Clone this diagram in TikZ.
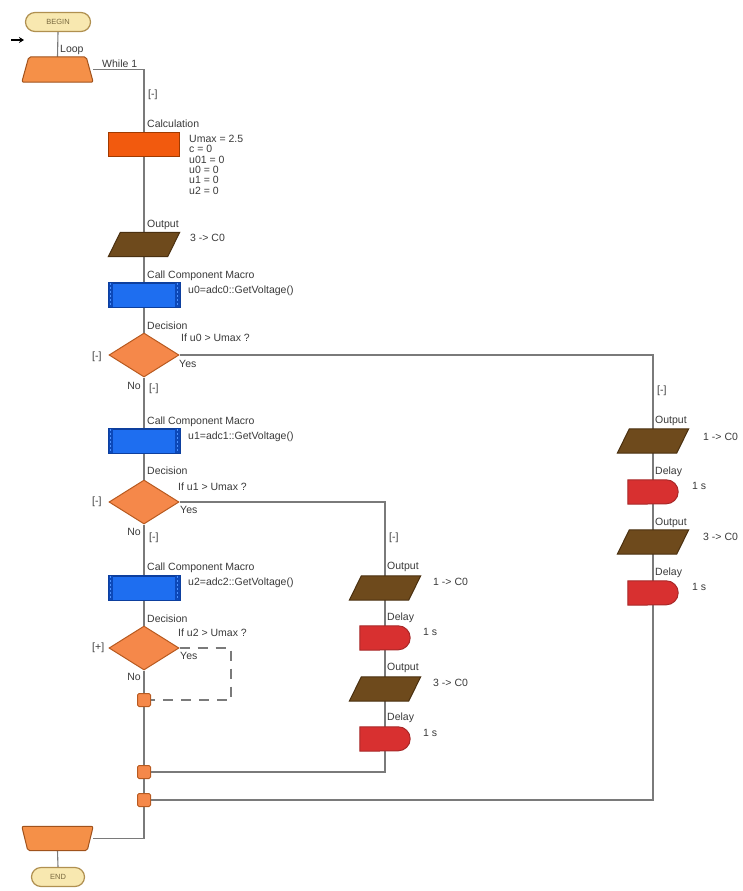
\documentclass[tikz,border=0pt]{standalone}
\usepackage{fontspec}
\setmainfont{Liberation Sans}
\usetikzlibrary{shapes.geometric,shapes.misc,arrows.meta,calc}
\definecolor{lineg}{HTML}{7A7A7A}
\definecolor{txt}{HTML}{3A3A3A}
\definecolor{pillf}{HTML}{F8E8B0}
\definecolor{pillb}{HTML}{B09050}
\definecolor{pilltxt}{HTML}{7A6A40}
\definecolor{loopf}{HTML}{F59048}
\definecolor{loopb}{HTML}{A0521C}
\definecolor{calcf}{HTML}{F25A0E}
\definecolor{calcb}{HTML}{A03A00}
\definecolor{parf}{HTML}{6E4A1C}
\definecolor{parb}{HTML}{4A3010}
\definecolor{macf}{HTML}{1E6EF0}
\definecolor{macd}{HTML}{0C48B8}
\definecolor{macl}{HTML}{4A90FF}
\definecolor{macb}{HTML}{0D3F9E}
\definecolor{decf}{HTML}{F5884A}
\definecolor{decb}{HTML}{B85A20}
\definecolor{dela}{HTML}{D83030}
\definecolor{delb}{HTML}{F87070}
\definecolor{delc}{HTML}{A82828}
\tikzset{
  conn/.style={draw=lineg, line width=1.1pt},
  lbl/.style={anchor=west, inner sep=0pt, font=\fontsize{10.5}{12}\selectfont, text=txt},
  pill/.style={rounded rectangle, draw=pillb, fill=pillf, line width=1.2pt, inner sep=0pt, font=\fontsize{7.5}{9}\selectfont, text=pilltxt},
  loopbox/.style={rectangle, draw=none, minimum width=71, minimum height=25, inner sep=0pt},
  calcbox/.style={rectangle, draw=calcb, fill=calcf, line width=1pt, minimum width=71, minimum height=24, inner sep=0pt},
  parabox/.style={rectangle, draw=none, minimum width=71, minimum height=24, inner sep=0pt},
  delaybox/.style={rectangle, draw=none, minimum width=50, minimum height=24, inner sep=0pt},
  macbox/.style={rectangle, draw=macb, fill=macf, line width=1pt, minimum width=71, minimum height=24, inner sep=0pt},
  decbox/.style={diamond, draw=decb, fill=decf, line width=1pt, minimum width=70, minimum height=44, inner sep=0pt},
  sqbox/.style={rectangle, draw=decb, fill=decf, line width=1pt, minimum size=13, inner sep=0pt, rounded corners=1.5pt},
  loopdraw/.style={draw=loopb, fill=loopf, line width=1pt, rounded corners=2pt},
}
\newcommand{\mkpara}[1]{%
  \draw[draw=parb, fill=parf, line width=1pt] (#1.south west) -- ($(#1.north west)+(12,0)$) -- (#1.north east) -- ($(#1.south east)+(-12,0)$) -- cycle;}
\newcommand{\mkdelay}[1]{%
  \path[draw=delc, line width=1pt, top color=dela, middle color=delb, bottom color=dela] (#1.north west) -- ($(#1.north east)+(-12,0)$) arc[start angle=-90, end angle=90, radius=12] -- (#1.south west) -- cycle;}
\newcommand{\mkmacro}[1]{%
  \fill[macd] (#1.north west) rectangle ($(#1.south west)+(5,0)$);
  \fill[macd] (#1.north east) rectangle ($(#1.south east)+(-5,0)$);
  \draw[macl, line width=1pt, dash pattern=on 2pt off 2pt] ($(#1.north west)+(2.5,0)$) -- ($(#1.south west)+(2.5,0)$);
  \draw[macl, line width=1pt, dash pattern=on 2pt off 2pt] ($(#1.north east)+(-2.5,0)$) -- ($(#1.south east)+(-2.5,0)$);
  \draw[macb, line width=1pt] (#1.north west) rectangle (#1.south east);}
\newcommand{\mkloop}[1]{%
  \draw[loopdraw] (#1.south west) -- ($(#1.north west)+(7,0)$) -- ($(#1.north east)+(-7,0)$) -- (#1.south east) -- cycle;}
\newcommand{\mkendloop}[1]{%
  \draw[loopdraw] (#1.north west) -- ($(#1.south west)+(6,0)$) -- ($(#1.south east)+(-6,0)$) -- (#1.north east) -- cycle;}
\begin{document}
\begin{tikzpicture}[x=1pt,y=-1pt]
\useasboundingbox[fill=white] (0,0) rectangle (742,891);
% nodes
\node[pill, minimum width=65, minimum height=19] (begin) at (58,22) {BEGIN};
\node[loopbox] (loop) at (57.5,69.5) {};
\node[calcbox] (calc) at (144,144) {};
\node[parabox] (out1) at (144,244.5) {};
\node[macbox] (mac1) at (144,295) {};
\node[decbox] (dec1) at (144,355) {};
\node[macbox] (mac2) at (144,441) {};
\node[decbox] (dec2) at (144,502) {};
\node[macbox] (mac3) at (144,588) {};
\node[decbox] (dec3) at (144,648) {};
\node[sqbox] (sq3) at (144,700) {};
\node[sqbox] (sq2) at (144,772) {};
\node[sqbox] (sq1) at (144,800) {};
\node[loopbox, minimum height=24] (endloop) at (57.5,838.5) {};
\node[pill, minimum width=53, minimum height=19] (end) at (58,877) {END};
% right column
\node[parabox] (or1) at (653,441) {};
\node[delaybox] (dr1) at (653,492) {};
\node[parabox] (or2) at (653,542) {};
\node[delaybox] (dr2) at (653,593) {};
% middle column
\node[parabox] (om1) at (385,588) {};
\node[delaybox] (dm1) at (385,638) {};
\node[parabox] (om2) at (385,689) {};
\node[delaybox] (dm2) at (385,739) {};
\coordinate (arrA) at (11,40);
\coordinate (arrB) at (24,40);
\coordinate (dsh1) at (231,648);
\coordinate (dsh2) at (231,700);
% connectors
\draw[conn] (begin.south) -- (loop.north);
\draw[conn] (loop.east) -| (calc.north);
\draw[conn] (calc.south) -- (out1.north);
\draw[conn] (out1.south) -- (mac1.north);
\draw[conn] (mac1.south) -- (dec1.north);
\draw[conn] (dec1.south) -- (mac2.north);
\draw[conn] (mac2.south) -- (dec2.north);
\draw[conn] (dec2.south) -- (mac3.north);
\draw[conn] (mac3.south) -- (dec3.north);
\draw[conn] (dec3.south) -- (sq3.north);
\draw[conn] (sq3.south) -- (sq2.north);
\draw[conn] (sq2.south) -- (sq1.north);
\draw[conn] (sq1.south) |- (endloop.east);
\draw[conn] (endloop.south) -- (end.north);
\draw[conn] (dec1.east) -| (or1.north);
\draw[conn] (or1.south) -- (dr1.north);
\draw[conn] (dr1.south) -- (or2.north);
\draw[conn] (or2.south) -- (dr2.north);
\draw[conn] (dr2.south) |- (sq1.east);
\draw[conn] (dec2.east) -| (om1.north);
\draw[conn] (om1.south) -- (dm1.north);
\draw[conn] (dm1.south) -- (om2.north);
\draw[conn] (om2.south) -- (dm2.north);
\draw[conn] (dm2.south) |- (sq2.east);
\draw[conn, dash pattern=on 10pt off 8pt] (dec3.east) -- (dsh1) -- (dsh2) -- (sq3.east);
\draw[-{Stealth[length=5pt,width=6pt]}, line width=1.4pt, black] (arrA) -- (arrB);
% shapes drawn over invisible boxes
\mkloop{loop}\mkendloop{endloop}
\mkpara{out1}\mkpara{or1}\mkpara{or2}\mkpara{om1}\mkpara{om2}
\mkdelay{dr1}\mkdelay{dr2}\mkdelay{dm1}\mkdelay{dm2}
\mkmacro{mac1}\mkmacro{mac2}\mkmacro{mac3}
% labels
\node[lbl] (tLoop) at (60,50) {Loop};
\node[lbl] (tWhile) at (102,64) {While 1};
\node[lbl] (tb0) at (148,95) {[-]};
\node[lbl] (tCalc) at (147,124) {Calculation};
\node[lbl, anchor=north west, align=left, font=\fontsize{10.5}{10.3}\selectfont] (tCalcTxt) at (189,135) {Umax = 2.5\\c = 0\\u01 = 0\\u0 = 0\\u1 = 0\\u2 = 0};
\node[lbl] (tOut1) at (147,225) {Output};
\node[lbl] (tOut1v) at (190,238) {3 -> C0};
\node[lbl] (tMac1) at (147,276) {Call Component Macro};
\node[lbl] (tMac1v) at (188,291) {u0=adc0::GetVoltage()};
\node[lbl] (tDec1) at (147,326) {Decision};
\node[lbl] (tDec1v) at (181,338) {If u0 > Umax ?};
\node[lbl] (tYes1) at (179,364) {Yes};
\node[lbl] (tL1) at (92,357) {[-]};
\node[lbl, anchor=east] (tNo1) at (141,386) {No};
\node[lbl] (tb1) at (149,389) {[-]};
\node[lbl] (tMac2) at (147,422) {Call Component Macro};
\node[lbl] (tMac2v) at (188,437) {u1=adc1::GetVoltage()};
\node[lbl] (tDec2) at (147,471) {Decision};
\node[lbl] (tDec2v) at (178,487) {If u1 > Umax ?};
\node[lbl] (tYes2) at (180,510) {Yes};
\node[lbl] (tL2) at (92,502) {[-]};
\node[lbl, anchor=east] (tNo2) at (141,532) {No};
\node[lbl] (tb2) at (149,538) {[-]};
\node[lbl] (tMac3) at (147,568) {Call Component Macro};
\node[lbl] (tMac3v) at (188,583) {u2=adc2::GetVoltage()};
\node[lbl] (tDec3) at (147,619) {Decision};
\node[lbl] (tDec3v) at (178,633) {If u2 > Umax ?};
\node[lbl] (tYes3) at (180,656) {Yes};
\node[lbl] (tL3) at (92,648) {[+]};
\node[lbl, anchor=east] (tNo3) at (141,677) {No};
% right column labels
\node[lbl] (tbR) at (657,391) {[-]};
\node[lbl] (tOR1) at (655,421) {Output};
\node[lbl] (tOR1v) at (703,437) {1 -> C0};
\node[lbl] (tDR1) at (655,472) {Delay};
\node[lbl] (tDR1v) at (692,486) {1 s};
\node[lbl] (tOR2) at (655,523) {Output};
\node[lbl] (tOR2v) at (703,537) {3 -> C0};
\node[lbl] (tDR2) at (655,573) {Delay};
\node[lbl] (tDR2v) at (692,587) {1 s};
% middle column labels
\node[lbl] (tbM) at (389,538) {[-]};
\node[lbl] (tOM1) at (387,567) {Output};
\node[lbl] (tOM1v) at (433,582) {1 -> C0};
\node[lbl] (tDM1) at (387,618) {Delay};
\node[lbl] (tDM1v) at (423,632) {1 s};
\node[lbl] (tOM2) at (387,668) {Output};
\node[lbl] (tOM2v) at (433,683) {3 -> C0};
\node[lbl] (tDM2) at (387,718) {Delay};
\node[lbl] (tDM2v) at (423,733) {1 s};
\end{tikzpicture}
\end{document}
